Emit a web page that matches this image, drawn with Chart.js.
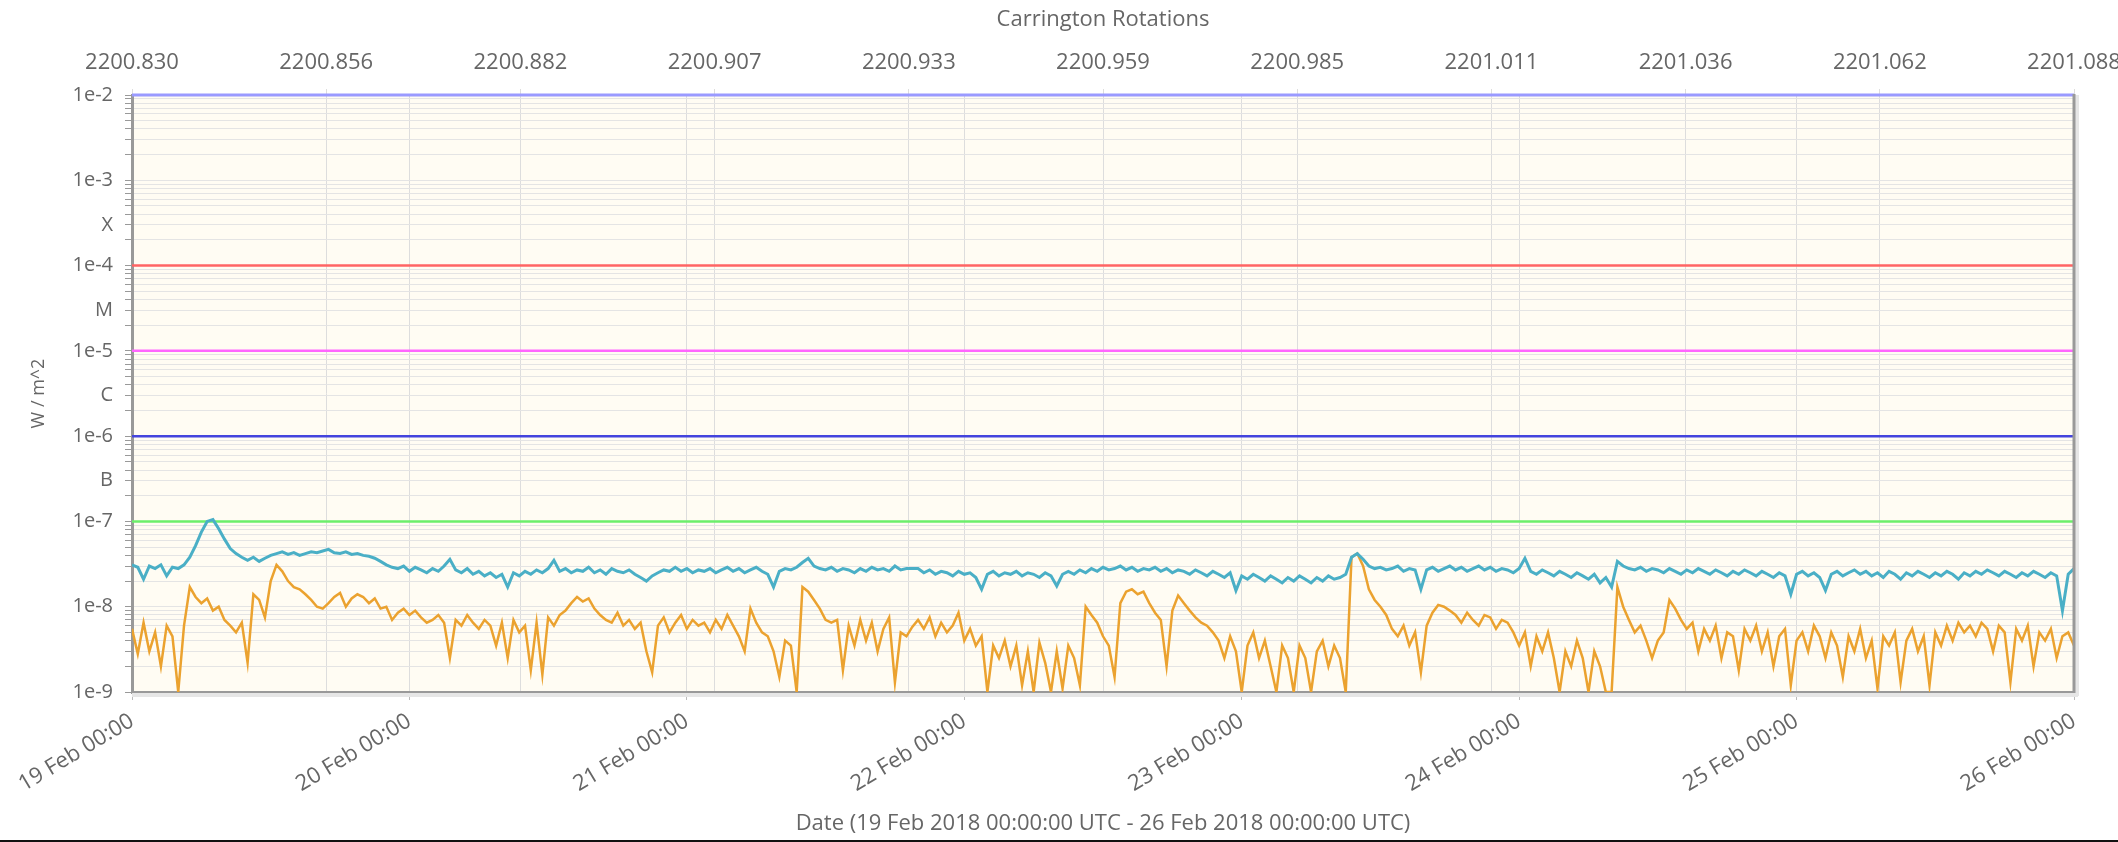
<!DOCTYPE html>
<html>
<head>
<meta charset="utf-8">
<title>GOES X-ray flux</title>
<script src="https://cdn.jsdelivr.net/npm/chart.js@4.4.1/dist/chart.umd.min.js"></script>
<style>
  html, body { margin: 0; padding: 0; background: #fff; }
  #wrap { width: 2118px; height: 842px; }
</style>
</head>
<body>
<div id="wrap"><canvas id="goes" width="2118" height="842"></canvas></div>
<script>
"use strict";

// sampling step of the flux series, in hours from 19 Feb 00:00 UTC
var SAMPLE_H = 0.5;

var dayLabels = ['19 Feb 00:00', '20 Feb 00:00', '21 Feb 00:00', '22 Feb 00:00',
    '23 Feb 00:00', '24 Feb 00:00', '25 Feb 00:00', '26 Feb 00:00'];

var carringtonLabels = ['2200.830', '2200.856', '2200.882', '2200.907', '2200.933', '2200.959',
    '2200.985', '2201.011', '2201.036', '2201.062', '2201.088'];

// flare class letters sit between the decades
var classLetters = ['X', 'M', 'C', 'B'];
var classExponents = [-4, -5, -6, -7];

var levelValues = [1e-2, 1e-4, 1e-5, 1e-6, 1e-7];
var levelColors = ['#9a9aff', '#ff6464', '#ff66ff', '#4444dd', '#6bef6b'];

// flux in 1e-9 W/m^2, one value per half hour
var longFlux = [
    31, 29, 21, 30, 28, 31, 23, 29, 28, 31,
    38, 52, 75, 100, 105, 82, 62, 48, 42, 38,
    35, 38, 34, 37, 40, 42, 44, 41, 43, 40,
    42, 44, 43, 45, 47, 43, 42, 44, 41, 42,
    40, 39, 37, 34, 31, 29, 28, 30, 26, 29,
    27, 25, 28, 26, 30, 36, 27, 25, 28, 24,
    26, 23, 25, 22, 24, 17, 25, 23, 26, 24,
    27, 25, 28, 35, 26, 28, 25, 27, 26, 29,
    25, 27, 24, 28, 26, 25, 27, 24, 22, 20,
    23, 25, 27, 26, 29, 26, 28, 25, 27, 26,
    28, 25, 27, 29, 26, 28, 25, 27, 29, 26,
    24, 17, 26, 28, 27, 29, 33, 37, 30, 28,
    27, 29, 26, 28, 27, 25, 28, 26, 29, 27,
    28, 26, 30, 27, 28, 28, 28, 25, 27, 24,
    26, 25, 23, 26, 24, 25, 22, 16, 24, 26,
    23, 25, 24, 26, 23, 25, 24, 22, 25, 23,
    17.5, 24, 26, 24, 27, 25, 28, 26, 29, 27,
    28, 30, 27, 29, 26, 28, 27, 29, 26, 28,
    25, 27, 26, 24, 27, 25, 23, 26, 24, 22,
    25, 15.5, 23, 21, 24, 22, 20, 23, 21, 19,
    22, 20, 23, 21, 19, 22, 20, 23, 21, 22,
    24, 38, 42, 36, 30, 28, 29, 27, 28, 30,
    26, 28, 27, 16, 27, 29, 26, 28, 30, 27,
    29, 26, 28, 30, 27, 29, 26, 28, 27, 25,
    28, 37, 26, 24, 27, 25, 23, 26, 24, 22,
    25, 23, 21, 24, 19, 22, 17, 34, 30, 28,
    27, 29, 26, 28, 27, 25, 28, 26, 24, 27,
    25, 28, 26, 24, 27, 25, 23, 26, 24, 27,
    25, 23, 26, 24, 22, 25, 23, 14, 24, 26,
    23, 25, 22, 15.5, 24, 26, 23, 25, 27, 24,
    26, 23, 25, 22, 26, 24, 21, 25, 23, 26,
    24, 22, 25, 23, 26, 24, 21, 25, 23, 26,
    24, 27, 25, 23, 26, 24, 22, 25, 23, 26,
    24, 22, 25, 23, 9, 24, 28
];

var shortFlux = [
    5.5, 2.8, 6.5, 3.0, 5.0, 2.0, 6.0, 4.5, 1.0, 6,
    17, 13, 11, 12.5, 9, 10, 7, 6, 5, 6.5,
    2.2, 14, 12, 7.5, 20, 31, 26, 20, 17, 16,
    14, 12, 10, 9.5, 11, 13, 14.5, 10, 12.5, 14,
    13, 11, 12.5, 9.5, 10, 7, 8.5, 9.5, 8, 9,
    7.5, 6.5, 7, 8, 6.5, 2.5, 7, 6, 8, 6.5,
    5.5, 7, 6, 3.5, 6.5, 2.5, 7, 5, 6, 1.8,
    6.5, 1.6, 7.5, 6, 8, 9, 11, 13, 11.5, 12.5,
    9.5, 8, 7, 6.5, 8.5, 6, 7, 5.5, 6.5, 3,
    1.7, 6, 7.5, 5, 6.5, 8, 5.5, 7, 6, 6.5,
    5, 7, 5.5, 8, 6, 4.5, 3, 9.5, 6.5, 5,
    4.5, 3, 1.5, 4, 3.5, 1.0, 17, 15, 12, 9.5,
    7, 6.5, 7, 1.8, 6, 3.5, 7, 4, 6.5, 3,
    5.5, 7.5, 1.3, 5, 4.5, 5.8, 7, 5.5, 7.5, 4.5,
    6.5, 5, 6, 8.5, 4, 5.5, 3.5, 4.5, 1.0, 3.5,
    2.5, 4, 2, 3.5, 1.2, 3, 1.0, 3.8, 2.2, 1.0,
    3, 1.1, 3.5, 2.5, 1.2, 10, 8, 6.5, 4.5, 3.5,
    1.5, 11, 15, 16, 14, 15, 11, 8.5, 7, 2.0,
    9, 13.5, 11, 9, 7.5, 6.5, 6, 5, 4, 2.5,
    4.5, 3, 1.0, 3.5, 5, 2.5, 4, 2, 1.0, 3.5,
    2.5, 1.0, 3.5, 2.5, 1.0, 3, 4, 2, 3.5, 2.5,
    1.0, 38, 42, 30, 16, 12, 10, 8, 5.5, 4.5,
    6, 3.5, 5, 1.7, 6, 8.5, 10.5, 10, 9, 8,
    6.5, 8.5, 7, 6, 8, 7.5, 5.5, 7, 6.5, 5,
    3.5, 5, 2, 4.5, 3, 5, 2.5, 1.0, 3, 2,
    4, 2.5, 1.0, 3, 2, 1.0, 1.0, 17, 10, 7,
    5, 6, 4, 2.5, 4, 5, 12, 9.5, 7, 5.5,
    6.5, 3, 5.5, 4, 6, 2.5, 5, 4.5, 1.8, 5.5,
    4, 6, 3, 5, 2, 4.5, 5.5, 1.2, 4, 5,
    3, 6, 4.5, 2.5, 5, 3.5, 1.5, 4.5, 3, 5.5,
    2.5, 4, 1.1, 4.5, 3.5, 5, 1.3, 4, 5.5, 3,
    4.5, 1.2, 5, 3.5, 6, 4, 6.5, 5, 6, 4.5,
    6.5, 5.5, 3, 6, 5, 1.3, 5.5, 4, 6, 2,
    5, 4, 5.5, 2.5, 4.5, 5, 3.5
];

// log axis ticks: 1..9 x 10^n, labels only on decades and class letters
var yTickValues = [];
var yTickLabels = [];
for (var e = -9; e <= -3; e++) {
    for (var m = 1; m <= 9; m++) {
        yTickValues.push(m * Math.pow(10, e));
        var lbl = '';
        if (m === 1) lbl = '1e' + e;
        var k = classExponents.indexOf(e);
        if (m === 3 && k >= 0) lbl = classLetters[k];
        yTickLabels.push(lbl);
    }
}
yTickValues.push(1e-2);
yTickLabels.push('1e-2');

function toPoints(series) {
    return series.map(function (v, i) {
        return { x: i * SAMPLE_H, y: v * 1e-9 };
    });
}

var datasets = [
    {
        label: 'long',
        data: toPoints(longFlux),
        borderColor: '#4aafc6',
        borderWidth: 3,
        order: 1
    },
    {
        label: 'short',
        data: toPoints(shortFlux),
        borderColor: '#eba22f',
        borderWidth: 2.5,
        order: 2
    }
];
levelValues.forEach(function (lv, i) {
    datasets.push({
        label: 'level ' + lv,
        data: [{ x: 0, y: lv }, { x: (dayLabels.length - 1) * 24, y: lv }],
        borderColor: levelColors[i],
        borderWidth: i === 0 ? 3 : 2.5,
        clip: false,
        order: 10
    });
});

// cream plot area, right frame and the page edge line
var plotFrame = {
    id: 'plotFrame',
    beforeDraw: function (chart) {
        var a = chart.chartArea, ctx = chart.ctx;
        ctx.save();
        ctx.fillStyle = '#fffcf3';
        ctx.fillRect(a.left, a.top, a.right - a.left, a.bottom - a.top);
        ctx.restore();
    },
    afterDraw: function (chart) {
        var a = chart.chartArea, ctx = chart.ctx;
        ctx.save();
        ctx.fillStyle = '#e6e6e6';
        ctx.fillRect(a.right + 1, a.top, 4, a.bottom - a.top + 4);
        ctx.fillRect(a.left, a.bottom + 1, a.right - a.left + 4, 4);
        ctx.strokeStyle = '#999';
        ctx.lineWidth = 3;
        ctx.beginPath();
        ctx.moveTo(a.right, a.top - 1);
        ctx.lineTo(a.right, a.bottom + 1);
        ctx.stroke();
        ctx.fillStyle = '#111';
        ctx.fillRect(0, chart.height - 2, chart.width, 2);
        ctx.restore();
    }
};

Chart.defaults.font.family = '"Open Sans", sans-serif';
Chart.defaults.font.size = 22;
Chart.defaults.color = '#666';

new Chart(document.getElementById('goes'), {
    type: 'line',
    data: { datasets: datasets },
    plugins: [plotFrame],
    options: {
        responsive: false,
        animation: false,
        devicePixelRatio: 1,
        layout: { padding: { left: 0, right: 44, top: 0, bottom: 0 } },
        elements: {
            point: { radius: 0 },
            line: { tension: 0 }
        },
        plugins: {
            legend: { display: false },
            tooltip: { enabled: false }
        },
        events: [],
        scales: {
            x: {
                type: 'linear',
                position: 'bottom',
                min: 0,
                max: (dayLabels.length - 1) * 24,
                afterFit: function (s) { s.height = 150; s.paddingLeft = 0; s.paddingRight = 0; },
                ticks: {
                    stepSize: 24,
                    autoSkip: false,
                    minRotation: 31,
                    maxRotation: 31,
                    padding: 8,
                    color: '#666',
                    callback: function (v) { return dayLabels[Math.round(v / 24)]; }
                },
                grid: { color: '#dddddd', tickColor: '#bbb', tickLength: 8 },
                border: { color: '#999', width: 3 },
                title: {
                    display: true,
                    text: 'Date (19 Feb 2018 00:00:00 UTC - 26 Feb 2018 00:00:00 UTC)',
                    color: '#666',
                    padding: { top: 0, bottom: 5 }
                }
            },
            x2: {
                type: 'linear',
                position: 'top',
                min: 0,
                max: carringtonLabels.length - 1,
                afterFit: function (s) { s.height = 95; s.paddingLeft = 0; s.paddingRight = 0; },
                ticks: {
                    stepSize: 1,
                    autoSkip: false,
                    maxRotation: 0,
                    padding: 13,
                    color: '#666',
                    callback: function (v) { return carringtonLabels[Math.round(v)]; }
                },
                grid: { color: '#dddddd', tickColor: '#dddddd', tickLength: 6 },
                border: { display: false },
                title: {
                    display: true,
                    text: 'Carrington Rotations',
                    color: '#666',
                    padding: { top: 7, bottom: 0 }
                }
            },
            y: {
                type: 'logarithmic',
                position: 'left',
                min: 1e-9,
                max: 1e-2,
                afterBuildTicks: function (s) {
                    s.ticks = yTickValues.map(function (v) { return { value: v }; });
                },
                afterFit: function (s) { s.width = 132; s.paddingTop = 0; s.paddingBottom = 0; },
                ticks: {
                    autoSkip: false,
                    padding: 12,
                    color: '#666',
                    font: { size: 20 },
                    callback: function (v, i) { return yTickLabels[i]; }
                },
                grid: { color: '#e4e4e4', tickColor: '#999', tickLength: 7 },
                border: { color: '#999', width: 3 },
                title: {
                    display: true,
                    text: 'W / m^2',
                    color: '#666',
                    font: { size: 18 },
                    padding: { top: 28, bottom: 0 }
                }
            }
        }
    }
});
</script>
</body>
</html>
